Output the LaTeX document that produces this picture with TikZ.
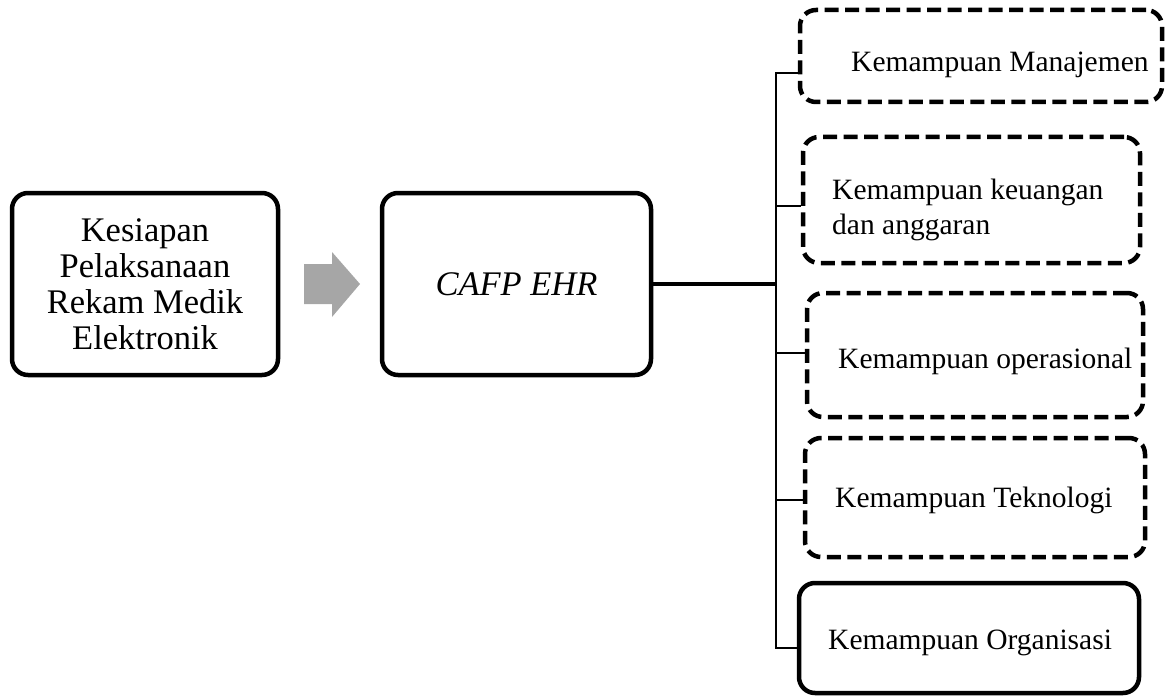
\documentclass[tikz,border=0pt]{standalone}
\usepackage{fontspec}
\setmainfont{Liberation Serif}
\begin{document}
\begin{tikzpicture}[x=1pt,y=-1pt,
  box/.style={draw, line width=4.5pt, rounded corners=16pt, inner sep=0pt},
  dbox/.style={box, dash pattern=on 14pt off 6.5pt},
  lbl/.style={font=\fontsize{29.5}{35}\selectfont, inner sep=0pt, anchor=west, align=left},
  conn/.style={line width=3.5pt},
  branch/.style={line width=2.5pt}]
\useasboundingbox (0,0) rectangle (1170,698);
% left box
\node[box, minimum width=266pt, minimum height=182pt, align=center,
      font=\fontsize{34.5}{36}\selectfont] (kes) at (145,284)
      {Kesiapan\\Pelaksanaan\\Rekam Medik\\Elektronik};
% block arrow
\fill[gray!70] (304,264) -- (332,264) -- (332,252) -- (360,284) -- (332,317) -- (332,304) -- (304,304) -- cycle;
% CAFP box
\node[box, minimum width=269pt, minimum height=182pt,
      font=\fontsize{34.5}{36}\selectfont\itshape] (cafp) at (516.5,284) {CAFP EHR};
% right boxes
\node[dbox, minimum width=362pt, minimum height=92pt] (b1) at (981,56) {};
\node[dbox, minimum width=337pt, minimum height=126pt] (b2) at (971.5,200) {};
\node[dbox, minimum width=336pt, minimum height=124pt] (b3) at (975,355) {};
\node[dbox, minimum width=340pt, minimum height=119pt] (b4) at (975,497.5) {};
\node[box, minimum width=340pt, minimum height=110pt] (b5) at (969,638) {};
% texts
\node[lbl] (t1) at (851,65) {Kemampuan Manajemen};
\node[lbl] (t2) at (832,210) {Kemampuan keuangan\\dan anggaran};
\node[lbl] (t3) at (838,361) {Kemampuan operasional};
\node[lbl] (t4) at (835,500) {Kemampuan Teknologi};
\node[lbl] (t5) at (828,643) {Kemampuan Organisasi};
% junctions
\coordinate (j1) at (776,73);
\coordinate (j2) at (776,206);
\coordinate (j3) at (776,353);
\coordinate (j4) at (776,500);
\coordinate (j5) at (776,648);
% connectors
\draw[conn] (cafp.east) -- (cafp.east -| j1);
\draw[branch] (j1 -| b1.west) -- (j1) -- (j5) -- (j5 -| b5.west);
\draw[branch] (j2) -- (j2 -| b2.west);
\draw[branch] (j3) -- (j3 -| b3.west);
\draw[branch] (j4) -- (j4 -| b4.west);
\end{tikzpicture}
\end{document}
